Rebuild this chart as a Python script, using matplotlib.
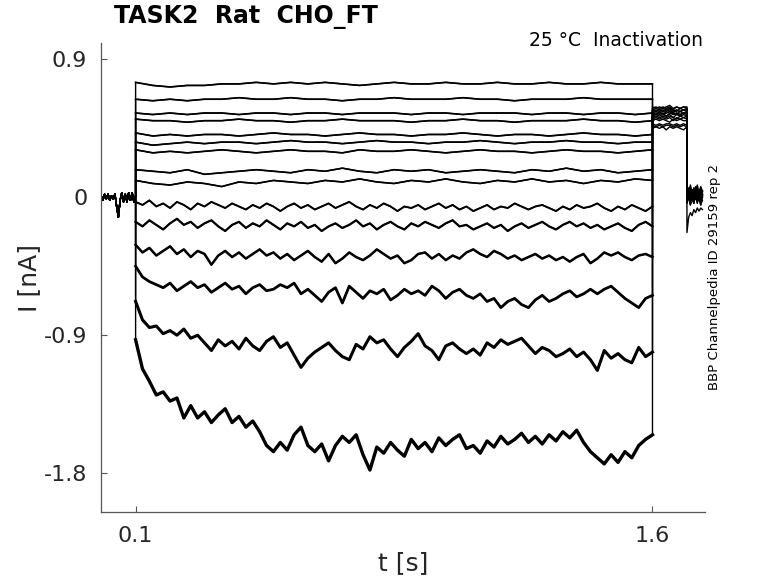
import numpy as np
import matplotlib
matplotlib.use("Agg")
import matplotlib.pyplot as plt

# time grids [s]
t_pre = np.linspace(0.0, 0.1, 21)
t_coarse = np.linspace(0.1, 1.6, 31)
t_fine = np.linspace(0.1, 1.6, 76)
t_post = np.linspace(1.6, 1.7, 11)
t_tail = np.linspace(1.7, 1.745, 10)

# holding segment before the step [nA]
pre = [0.01, -0.02, 0.02, -0.01, 0.02, -0.02, 0.01, -0.01, 0.02, -0.06,
       -0.13, -0.02, 0.03, -0.03, 0.02, -0.03, 0.03, -0.02, 0.03, -0.03, 0.01]

# step currents, top 9 traces (coarse sampling) [nA]
step_coarse = [
    [0.75, 0.73, 0.72, 0.73, 0.73, 0.74, 0.74, 0.75, 0.74, 0.75, 0.74, 0.75, 0.74, 0.73, 0.74, 0.75,
     0.74, 0.74, 0.75, 0.74, 0.74, 0.75, 0.74, 0.74, 0.75, 0.74, 0.74, 0.75, 0.74, 0.74, 0.74],
    [0.64, 0.63, 0.64, 0.63, 0.64, 0.64, 0.65, 0.64, 0.64, 0.65, 0.64, 0.64, 0.63, 0.64, 0.64, 0.65,
     0.64, 0.64, 0.64, 0.65, 0.64, 0.64, 0.63, 0.64, 0.64, 0.64, 0.65, 0.64, 0.64, 0.64, 0.64],
    [0.55, 0.54, 0.55, 0.54, 0.55, 0.55, 0.54, 0.55, 0.55, 0.54, 0.55, 0.55, 0.54, 0.55, 0.55, 0.55,
     0.54, 0.55, 0.55, 0.54, 0.55, 0.55, 0.55, 0.54, 0.55, 0.55, 0.54, 0.55, 0.55, 0.54, 0.55],
    [0.51, 0.50, 0.50, 0.49, 0.50, 0.50, 0.51, 0.50, 0.50, 0.49, 0.50, 0.50, 0.51, 0.50, 0.50, 0.50,
     0.49, 0.50, 0.50, 0.51, 0.50, 0.50, 0.49, 0.50, 0.50, 0.50, 0.51, 0.50, 0.50, 0.49, 0.50],
    [0.42, 0.40, 0.41, 0.40, 0.41, 0.41, 0.40, 0.41, 0.42, 0.41, 0.41, 0.40, 0.41, 0.42, 0.41, 0.41,
     0.40, 0.41, 0.41, 0.42, 0.41, 0.40, 0.41, 0.41, 0.40, 0.41, 0.42, 0.41, 0.41, 0.40, 0.41],
    [0.36, 0.34, 0.35, 0.36, 0.35, 0.36, 0.36, 0.35, 0.36, 0.37, 0.36, 0.36, 0.35, 0.36, 0.37, 0.36,
     0.36, 0.35, 0.36, 0.36, 0.37, 0.36, 0.35, 0.36, 0.36, 0.37, 0.36, 0.36, 0.35, 0.36, 0.36],
    [0.31, 0.29, 0.30, 0.29, 0.30, 0.31, 0.30, 0.29, 0.30, 0.31, 0.30, 0.30, 0.29, 0.31, 0.30, 0.30,
     0.31, 0.30, 0.29, 0.30, 0.31, 0.30, 0.30, 0.29, 0.30, 0.31, 0.30, 0.30, 0.29, 0.30, 0.31],
    [0.18, 0.17, 0.16, 0.18, 0.15, 0.16, 0.17, 0.18, 0.17, 0.16, 0.18, 0.17, 0.19, 0.17, 0.16, 0.18,
     0.17, 0.18, 0.16, 0.17, 0.18, 0.17, 0.16, 0.18, 0.17, 0.19, 0.17, 0.18, 0.16, 0.17, 0.18],
    [0.11, 0.09, 0.08, 0.10, 0.09, 0.07, 0.10, 0.09, 0.11, 0.10, 0.09, 0.11, 0.10, 0.12, 0.10, 0.09,
     0.11, 0.10, 0.12, 0.10, 0.09, 0.11, 0.10, 0.12, 0.10, 0.11, 0.09, 0.11, 0.10, 0.12, 0.11],
]

# step currents, lower 6 traces (fine sampling) [nA]
step_fine = [
    [-0.03, -0.05, -0.02, -0.06, -0.04, -0.07, -0.03, -0.05, -0.08, -0.04,
     -0.06, -0.03, -0.05, -0.07, -0.04, -0.06, -0.08, -0.05, -0.07, -0.04,
     -0.06, -0.09, -0.06, -0.04, -0.07, -0.05, -0.08, -0.06, -0.04, -0.07,
     -0.05, -0.03, -0.06, -0.08, -0.05, -0.07, -0.04, -0.06, -0.09, -0.06,
     -0.07, -0.05, -0.08, -0.06, -0.04, -0.07, -0.05, -0.08, -0.06, -0.09,
     -0.07, -0.05, -0.08, -0.06, -0.07, -0.04, -0.06, -0.08, -0.06, -0.05,
     -0.07, -0.09, -0.06, -0.08, -0.05, -0.07, -0.06, -0.04, -0.07, -0.09,
     -0.06, -0.08, -0.05, -0.07, -0.09, -0.06],
    [-0.16, -0.19, -0.15, -0.18, -0.21, -0.17, -0.14, -0.18, -0.16, -0.20,
     -0.17, -0.15, -0.19, -0.22, -0.18, -0.16, -0.20, -0.17, -0.19, -0.15,
     -0.18, -0.21, -0.17, -0.19, -0.16, -0.20, -0.18, -0.22, -0.19, -0.17,
     -0.20, -0.18, -0.15, -0.19, -0.17, -0.21, -0.18, -0.16, -0.19, -0.21,
     -0.17, -0.19, -0.16, -0.18, -0.20, -0.17, -0.15, -0.19, -0.18, -0.21,
     -0.19, -0.17, -0.20, -0.18, -0.22, -0.19, -0.17, -0.20, -0.18, -0.16,
     -0.19, -0.21, -0.18, -0.16, -0.19, -0.17, -0.20, -0.18, -0.21, -0.19,
     -0.17, -0.20, -0.22, -0.18, -0.16, -0.19],
    [-0.31, -0.36, -0.33, -0.38, -0.35, -0.32, -0.37, -0.34, -0.39, -0.35,
     -0.37, -0.44, -0.38, -0.35, -0.39, -0.36, -0.40, -0.37, -0.34, -0.38,
     -0.36, -0.40, -0.37, -0.41, -0.38, -0.35, -0.39, -0.42, -0.37, -0.43,
     -0.40, -0.36, -0.39, -0.41, -0.38, -0.34, -0.37, -0.40, -0.38, -0.43,
     -0.41, -0.37, -0.36, -0.40, -0.37, -0.41, -0.38, -0.40, -0.36, -0.34,
     -0.37, -0.39, -0.35, -0.37, -0.40, -0.38, -0.41, -0.39, -0.37, -0.40,
     -0.38, -0.41, -0.39, -0.42, -0.39, -0.37, -0.43, -0.40, -0.36, -0.38,
     -0.36, -0.39, -0.41, -0.38, -0.37, -0.39],
    [-0.45, -0.52, -0.55, -0.57, -0.59, -0.56, -0.61, -0.58, -0.55, -0.59,
     -0.57, -0.62, -0.59, -0.56, -0.60, -0.58, -0.63, -0.59, -0.57, -0.61,
     -0.60, -0.57, -0.59, -0.56, -0.63, -0.60, -0.64, -0.68, -0.62, -0.59,
     -0.69, -0.58, -0.62, -0.66, -0.61, -0.63, -0.60, -0.67, -0.64, -0.60,
     -0.63, -0.61, -0.64, -0.58, -0.61, -0.66, -0.62, -0.60, -0.64, -0.66,
     -0.63, -0.68, -0.66, -0.72, -0.68, -0.66, -0.70, -0.72, -0.67, -0.64,
     -0.68, -0.66, -0.63, -0.61, -0.65, -0.63, -0.60, -0.63, -0.60, -0.58,
     -0.62, -0.66, -0.69, -0.72, -0.66, -0.64],
    [-0.68, -0.80, -0.85, -0.84, -0.89, -0.87, -0.90, -0.86, -0.92, -0.90,
     -0.95, -1.00, -0.93, -0.97, -0.94, -0.99, -0.92, -0.97, -1.00, -0.94,
     -0.91, -0.98, -0.95, -1.03, -1.11, -1.05, -1.01, -0.98, -0.95, -1.00,
     -1.04, -1.06, -0.96, -0.99, -0.91, -0.95, -0.93, -0.99, -1.04, -0.98,
     -0.94, -0.89, -0.97, -1.00, -1.06, -0.97, -0.95, -0.99, -1.02, -0.99,
     -1.03, -0.95, -0.98, -0.93, -0.96, -0.94, -0.92, -0.97, -1.02, -0.98,
     -1.00, -1.04, -1.02, -0.99, -1.04, -1.01, -1.06, -1.13, -1.00, -1.05,
     -1.02, -1.06, -1.08, -0.98, -1.04, -1.01],
    [-0.93, -1.12, -1.20, -1.29, -1.27, -1.33, -1.31, -1.44, -1.36, -1.44,
     -1.40, -1.47, -1.42, -1.38, -1.47, -1.43, -1.50, -1.46, -1.53, -1.62,
     -1.66, -1.60, -1.65, -1.55, -1.50, -1.62, -1.66, -1.61, -1.72, -1.62,
     -1.56, -1.60, -1.55, -1.68, -1.78, -1.63, -1.67, -1.60, -1.65, -1.69,
     -1.58, -1.64, -1.60, -1.66, -1.57, -1.62, -1.58, -1.55, -1.64, -1.62,
     -1.67, -1.59, -1.63, -1.56, -1.61, -1.58, -1.54, -1.60, -1.56, -1.61,
     -1.55, -1.59, -1.53, -1.57, -1.52, -1.60, -1.66, -1.70, -1.74, -1.68,
     -1.73, -1.66, -1.70, -1.62, -1.58, -1.55],
]

# second step (1.6 - 1.7 s) [nA], traces top to bottom
post = [
    [0.45, 0.46, 0.45, 0.46, 0.44, 0.46, 0.45, 0.46, 0.45, 0.44, 0.46],
    [0.47, 0.46, 0.47, 0.46, 0.47, 0.47, 0.46, 0.47, 0.46, 0.47, 0.46],
    [0.48, 0.47, 0.48, 0.47, 0.48, 0.48, 0.47, 0.48, 0.47, 0.48, 0.47],
    [0.50, 0.51, 0.50, 0.51, 0.50, 0.49, 0.51, 0.50, 0.51, 0.50, 0.50],
    [0.51, 0.52, 0.51, 0.52, 0.51, 0.52, 0.50, 0.52, 0.51, 0.52, 0.51],
    [0.52, 0.53, 0.52, 0.53, 0.52, 0.53, 0.52, 0.51, 0.53, 0.52, 0.53],
    [0.53, 0.54, 0.53, 0.54, 0.53, 0.54, 0.52, 0.54, 0.53, 0.54, 0.53],
    [0.54, 0.55, 0.54, 0.55, 0.53, 0.55, 0.54, 0.55, 0.54, 0.55, 0.54],
    [0.55, 0.54, 0.55, 0.54, 0.55, 0.56, 0.54, 0.55, 0.54, 0.55, 0.55],
    [0.55, 0.56, 0.55, 0.56, 0.55, 0.56, 0.55, 0.54, 0.56, 0.55, 0.56],
    [0.56, 0.57, 0.56, 0.57, 0.56, 0.57, 0.55, 0.57, 0.56, 0.57, 0.56],
    [0.57, 0.56, 0.57, 0.56, 0.57, 0.58, 0.56, 0.57, 0.56, 0.57, 0.57],
    [0.57, 0.58, 0.57, 0.58, 0.57, 0.58, 0.57, 0.56, 0.58, 0.57, 0.58],
    [0.58, 0.59, 0.58, 0.59, 0.58, 0.59, 0.57, 0.59, 0.58, 0.59, 0.58],
    [0.59, 0.58, 0.59, 0.58, 0.59, 0.60, 0.58, 0.59, 0.58, 0.59, 0.59],
]

# back to holding (1.7 s onwards) [nA]
tail = [
    [-0.23, -0.13, -0.10, -0.12, -0.08, -0.10, -0.07, -0.09, -0.07, -0.08],
    [0.02, 0.06, -0.01, 0.05, 0.00, 0.04, -0.02, 0.03, 0.01, 0.04],
    [-0.02, 0.03, -0.04, 0.02, -0.03, 0.01, -0.04, 0.02, -0.02, 0.01],
    [0.05, 0.01, 0.07, 0.02, 0.06, 0.00, 0.05, 0.02, 0.06, 0.03],
    [0.00, 0.05, -0.02, 0.04, -0.01, 0.05, 0.00, 0.03, -0.02, 0.04],
    [0.03, -0.01, 0.05, 0.01, 0.06, -0.01, 0.04, 0.00, 0.05, 0.02],
    [-0.03, 0.02, -0.05, 0.01, -0.04, 0.02, -0.03, 0.00, -0.05, 0.01],
    [0.07, 0.03, 0.08, 0.02, 0.06, 0.04, 0.08, 0.03, 0.07, 0.04],
    [0.01, 0.04, -0.02, 0.03, 0.00, 0.05, -0.01, 0.02, 0.04, 0.00],
    [-0.04, 0.00, -0.05, -0.01, -0.04, 0.01, -0.03, -0.01, -0.05, -0.02],
    [0.04, 0.00, 0.06, 0.02, 0.05, 0.01, 0.06, 0.02, 0.04, 0.01],
    [-0.01, 0.03, -0.03, 0.02, -0.02, 0.04, -0.01, 0.03, -0.03, 0.02],
    [0.02, 0.06, 0.01, 0.05, 0.02, 0.07, 0.03, 0.05, 0.01, 0.04],
    [-0.02, 0.01, -0.04, 0.00, -0.03, 0.02, -0.02, 0.01, -0.04, 0.00],
    [0.03, 0.00, 0.05, 0.01, 0.04, -0.01, 0.03, 0.01, 0.05, 0.02],
]

xticks = [0.1, 1.6]
xticklabels = ["0.1", "1.6"]
yticks = [0.9, 0, -0.9, -1.8]
yticklabels = ["0.9", "0", "-0.9", "-1.8"]

grey = "#555555"
txt = "#262626"

fig = plt.figure(figsize=(7.78, 5.83), dpi=100)
ax = fig.add_axes([0.130, 0.122, 0.776, 0.804])

# noisier (more negative) traces get a heavier step segment
widths = [1.2] * 9 + [1.4, 1.6, 1.8, 2.0, 2.2, 2.4]

steps = [(t_coarse, s) for s in step_coarse] + [(t_fine, s) for s in step_fine]
for k, (ts, s) in enumerate(steps):
    t = np.concatenate([t_pre, ts, t_post, t_tail])
    y = np.concatenate([pre, s, post[k], tail[k]])
    ax.plot(t, y, color="black", lw=1.0)
    ax.plot(ts, s, color="black", lw=widths[k], solid_joinstyle="round")

ax.set_xlim(0.0, 1.752)
ax.set_ylim(-2.053, 1.006)

for side in ["top", "right"]:
    ax.spines[side].set_visible(False)
for side in ["left", "bottom"]:
    ax.spines[side].set_color(grey)
    ax.spines[side].set_linewidth(0.9)

ax.set_xticks(xticks)
ax.set_xticklabels(xticklabels)
ax.set_yticks(yticks)
ax.set_yticklabels(yticklabels)
ax.tick_params(direction="in", length=4.5, width=0.8, color=grey,
               labelsize=16, labelcolor=txt, pad=10)

ax.set_xlabel("t [s]", fontsize=18, color=txt, labelpad=4)
ax.set_ylabel("I [nA]", fontsize=18, color=txt, labelpad=2)

fig.text(0.1465, 0.970, "TASK2  Rat  CHO_FT", fontsize=17, fontweight="bold",
         ha="left", va="center", color="black")
fig.text(0.903, 0.930, "25 °C  Inactivation", fontsize=13.5,
         ha="right", va="center", color="black")
fig.text(0.919, 0.525, "BBP Channelpedia ID 29159 rep 2", fontsize=9.5,
         rotation=90, ha="center", va="center", color="black")

fig.savefig("out.png", dpi=100)
